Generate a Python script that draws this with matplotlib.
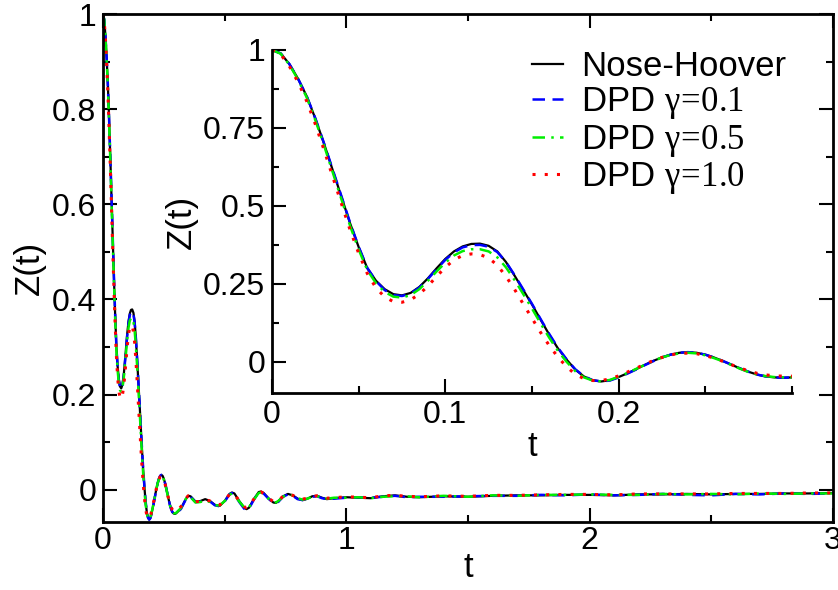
import matplotlib
matplotlib.use('Agg')
import matplotlib.pyplot as plt
from matplotlib.ticker import MultipleLocator

plt.rcParams['font.family'] = ['Liberation Sans', 'DejaVu Sans']
plt.rcParams['mathtext.fontset'] = 'custom'
plt.rcParams['mathtext.rm'] = 'Liberation Serif'
plt.rcParams['mathtext.it'] = 'Liberation Serif'

# short-time part (shown in the inset and at the start of the main plot)
t_short = [0.000, 0.005, 0.010, 0.015, 0.020, 0.025, 0.030, 0.035, 0.040, 0.045,
           0.050, 0.055, 0.060, 0.065, 0.070, 0.075, 0.080, 0.085, 0.090, 0.095,
           0.100, 0.105, 0.110, 0.115, 0.120, 0.125, 0.130, 0.135, 0.140, 0.145,
           0.150, 0.155, 0.160, 0.165, 0.170, 0.175, 0.180, 0.185, 0.190, 0.195,
           0.200, 0.205, 0.210, 0.215, 0.220, 0.225, 0.230, 0.235, 0.240, 0.245,
           0.250, 0.255, 0.260, 0.265, 0.270, 0.275, 0.280, 0.285, 0.290, 0.295,
           0.300]

nh_short = [1.000, 0.989, 0.955, 0.908, 0.852, 0.780, 0.700, 0.615, 0.530, 0.445,
            0.368, 0.300, 0.260, 0.233, 0.217, 0.213, 0.221, 0.240, 0.268, 0.300,
            0.330, 0.354, 0.370, 0.378, 0.379, 0.372, 0.354, 0.320, 0.276, 0.230,
            0.184, 0.135, 0.087, 0.043, 0.007, -0.025, -0.047, -0.059, -0.063, -0.059,
            -0.049, -0.037, -0.024, -0.010, 0.003, 0.014, 0.023, 0.029, 0.031, 0.029,
            0.023, 0.014, 0.003, -0.009, -0.021, -0.032, -0.041, -0.047, -0.050, -0.051,
            -0.050]

g01_short = [1.000, 0.989, 0.955, 0.908, 0.852, 0.781, 0.701, 0.617, 0.532, 0.447,
             0.369, 0.301, 0.259, 0.230, 0.214, 0.211, 0.219, 0.238, 0.266, 0.297,
             0.327, 0.351, 0.367, 0.374, 0.375, 0.369, 0.352, 0.320, 0.278, 0.232,
             0.186, 0.137, 0.089, 0.045, 0.008, -0.024, -0.046, -0.059, -0.063, -0.060,
             -0.050, -0.038, -0.025, -0.011, 0.002, 0.014, 0.023, 0.029, 0.031, 0.029,
             0.023, 0.014, 0.003, -0.009, -0.021, -0.032, -0.041, -0.047, -0.050, -0.051,
             -0.050]

g05_short = [1.000, 0.988, 0.953, 0.905, 0.848, 0.775, 0.694, 0.608, 0.522, 0.437,
             0.360, 0.294, 0.252, 0.224, 0.209, 0.206, 0.214, 0.233, 0.260, 0.290,
             0.318, 0.341, 0.355, 0.361, 0.361, 0.354, 0.335, 0.303, 0.262, 0.217,
             0.171, 0.123, 0.077, 0.035, 0.000, -0.030, -0.050, -0.060, -0.063, -0.058,
             -0.048, -0.036, -0.023, -0.010, 0.003, 0.014, 0.022, 0.027, 0.029, 0.027,
             0.021, 0.012, 0.002, -0.010, -0.022, -0.033, -0.041, -0.046, -0.049, -0.050,
             -0.049]

g10_short = [1.000, 0.986, 0.948, 0.897, 0.836, 0.762, 0.680, 0.594, 0.508, 0.424,
             0.348, 0.283, 0.237, 0.208, 0.193, 0.191, 0.199, 0.217, 0.243, 0.274,
             0.303, 0.327, 0.341, 0.346, 0.344, 0.333, 0.310, 0.274, 0.232, 0.185,
             0.140, 0.094, 0.052, 0.015, -0.016, -0.040, -0.054, -0.060, -0.060, -0.055,
             -0.045, -0.033, -0.021, -0.008, 0.004, 0.014, 0.022, 0.027, 0.028, 0.026,
             0.020, 0.012, 0.002, -0.009, -0.020, -0.029, -0.037, -0.042, -0.045, -0.046,
             -0.046]

# long-time tail (main plot only)
t_tail = [0.32, 0.34, 0.35, 0.36, 0.38, 0.40, 0.42, 0.44, 0.46, 0.48,
          0.50, 0.52, 0.53, 0.54, 0.56, 0.58, 0.59, 0.60, 0.62, 0.64,
          0.65, 0.66, 0.68, 0.70, 0.71, 0.72, 0.74, 0.76, 0.78, 0.80,
          0.82, 0.84, 0.86, 0.88, 0.90, 0.92, 0.95, 1.00, 1.05, 1.10,
          1.15, 1.20, 1.25, 1.30, 1.40, 1.50, 1.60, 1.70, 1.80, 1.90,
          2.00, 2.10, 2.20, 2.30, 2.40, 2.50, 2.60, 2.70, 2.80, 2.90,
          3.00]

nh_tail = [-0.040, -0.020, -0.013, -0.014, -0.025, -0.024, -0.020, -0.024, -0.032, -0.034,
           -0.024, -0.009, -0.006, -0.008, -0.024, -0.038, -0.041, -0.038, -0.020, -0.005,
           -0.004, -0.007, -0.018, -0.027, -0.028, -0.025, -0.014, -0.009, -0.012, -0.019,
           -0.022, -0.019, -0.014, -0.013, -0.017, -0.020, -0.018, -0.016, -0.017, -0.018,
           -0.014, -0.012, -0.015, -0.016, -0.014, -0.015, -0.013, -0.012, -0.012, -0.011,
           -0.011, -0.012, -0.010, -0.010, -0.009, -0.010, -0.009, -0.009, -0.008, -0.008,
           -0.007]

g01_tail = [-0.041, -0.021, -0.014, -0.015, -0.026, -0.025, -0.021, -0.025, -0.033, -0.035,
            -0.025, -0.010, -0.007, -0.009, -0.026, -0.040, -0.043, -0.040, -0.021, -0.006,
            -0.005, -0.008, -0.019, -0.028, -0.029, -0.026, -0.015, -0.010, -0.013, -0.020,
            -0.022, -0.019, -0.015, -0.014, -0.018, -0.020, -0.019, -0.017, -0.016, -0.017,
            -0.015, -0.013, -0.016, -0.015, -0.015, -0.014, -0.013, -0.013, -0.011, -0.012,
            -0.010, -0.012, -0.011, -0.009, -0.011, -0.012, -0.009, -0.010, -0.008, -0.009,
            -0.008]

g05_tail = [-0.039, -0.020, -0.014, -0.016, -0.027, -0.026, -0.023, -0.026, -0.033, -0.033,
            -0.024, -0.011, -0.008, -0.010, -0.025, -0.037, -0.040, -0.037, -0.021, -0.007,
            -0.006, -0.009, -0.019, -0.026, -0.027, -0.024, -0.015, -0.010, -0.012, -0.018,
            -0.021, -0.019, -0.015, -0.014, -0.016, -0.019, -0.017, -0.017, -0.016, -0.018,
            -0.015, -0.014, -0.014, -0.016, -0.013, -0.015, -0.012, -0.013, -0.011, -0.011,
            -0.010, -0.011, -0.011, -0.009, -0.010, -0.009, -0.010, -0.008, -0.009, -0.008,
            -0.008]

g10_tail = [-0.036, -0.019, -0.013, -0.015, -0.025, -0.025, -0.021, -0.024, -0.031, -0.032,
            -0.023, -0.010, -0.007, -0.009, -0.024, -0.036, -0.038, -0.035, -0.020, -0.007,
            -0.005, -0.008, -0.018, -0.025, -0.026, -0.023, -0.014, -0.010, -0.012, -0.018,
            -0.020, -0.018, -0.014, -0.013, -0.016, -0.018, -0.017, -0.015, -0.016, -0.017,
            -0.013, -0.012, -0.014, -0.015, -0.013, -0.014, -0.012, -0.012, -0.011, -0.010,
            -0.010, -0.011, -0.009, -0.009, -0.009, -0.009, -0.008, -0.008, -0.008, -0.007,
            -0.007]

labels = ['Nose-Hoover', r'DPD $\mathrm{\gamma}\!=\!0.1$',
          r'DPD $\mathrm{\gamma}\!=\!0.5$', r'DPD $\mathrm{\gamma}\!=\!1.0$']
colors = ['black', '#0000ff', '#00ee00', '#ff0000']
styles = ['-', (0, (5, 3)), (0, (5, 2.5, 1, 2.5)), (0, (1, 3))]
widths = [1.6, 1.8, 1.8, 2.2]

short = [nh_short, g01_short, g05_short, g10_short]
tail = [nh_tail, g01_tail, g05_tail, g10_tail]

fig = plt.figure(figsize=(8.38, 5.90), dpi=100)

ax = fig.add_axes([0.1229, 0.1153, 0.8711, 0.8607])
for z1, z2, c, ls, lw in zip(short, tail, colors, styles, widths):
    ax.plot(t_short + t_tail, z1 + z2, color=c, ls=ls, lw=lw)
ax.set_xlim(0, 3)
ax.set_ylim(-0.068, 1.0)
ax.xaxis.set_minor_locator(MultipleLocator(0.5))
ax.yaxis.set_minor_locator(MultipleLocator(0.1))
ax.set_yticks([0, 0.2, 0.4, 0.6, 0.8, 1.0], ['0', '0.2', '0.4', '0.6', '0.8', '1'])
ax.set_xticks([0, 1, 2, 3], ['0', '1', '2', '3'])
ax.tick_params(which='both', direction='in', top=True, right=True, width=1.5,
               labelsize=23)
ax.tick_params(axis='y', pad=5)
ax.tick_params(axis='x', pad=3)
ax.tick_params(which='major', length=10)
ax.tick_params(which='minor', length=5)
for s in ax.spines.values():
    s.set_linewidth(2)
ax.set_xlabel('t', fontsize=25, labelpad=-4)
ax.set_ylabel('Z(t)', fontsize=25, labelpad=4)

ins = fig.add_axes([0.3246, 0.3339, 0.6204, 0.5814])
lines = []
for z1, c, ls, lw, lab in zip(short, colors, styles, widths, labels):
    ln, = ins.plot(t_short, z1, color=c, ls=ls, lw=lw, label=lab)
    lines.append(ln)
ins.set_xlim(0, 0.3)
ins.set_ylim(-0.1, 1.0)
ins.spines['top'].set_visible(False)
ins.spines['right'].set_visible(False)
for s in ['left', 'bottom']:
    ins.spines[s].set_linewidth(2)
ins.set_xticks([0, 0.1, 0.2], ['0', '0.1', '0.2'])
ins.xaxis.set_minor_locator(MultipleLocator(0.05))
ins.set_yticks([0, 0.25, 0.5, 0.75, 1.0], ['0', '0.25', '0.5', '0.75', '1'])
ins.yaxis.set_minor_locator(MultipleLocator(0.125))
ins.tick_params(which='both', direction='in', width=1.5, labelsize=23, pad=5)
ins.tick_params(which='major', length=10)
ins.tick_params(which='minor', length=5)
ins.set_xlabel('t', fontsize=25, labelpad=0)
ins.set_ylabel('Z(t)', fontsize=25, labelpad=4)
ins.patch.set_alpha(0)

ins.legend(handles=lines, loc='upper right', bbox_to_anchor=(1.035, 1.07),
           frameon=False, fontsize=25, handlelength=0.9, handletextpad=0.5,
           labelspacing=0.05, borderpad=0.2)

fig.savefig('out.png', dpi=100)
